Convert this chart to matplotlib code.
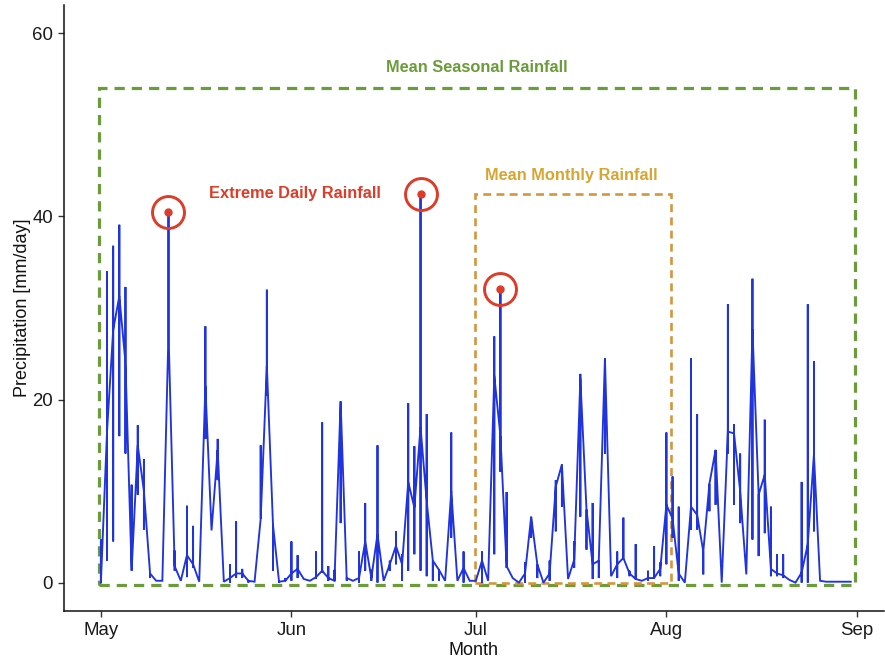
import numpy as np
import matplotlib
matplotlib.use("Agg")
import matplotlib.pyplot as plt
from matplotlib.patches import Rectangle

plt.rcParams['font.family'] = ['Liberation Sans', 'DejaVu Sans']

# Daily precipitation, May 1 (day 0) to Aug 31 (day 122), mm/day.
# Each day holds several readings: the lowest, a typical one and the highest.
rain_low = [
    0.0, 2.4, 4.5, 16.0, 14.1, 1.3, 9.6, 5.8, 0.5, 0.2,
    0.2, 27.4, 1.3, 0.2, 0.6, 1.6, 0.1, 15.7, 5.7, 11.2,
    0.1, 0.0, 0.5, 0.5, 0.0, 0.1, 7.0, 20.4, 1.3, 0.0,
    0.2, 0.2, 0.5, 0.4, 0.2, 0.4, 1.1, 0.2, 0.2, 6.5,
    0.2, 0.2, 0.0, 1.3, 0.2, 0.0, 0.2, 1.3, 2.0, 0.2,
    1.3, 3.1, 1.3, 0.7, 0.2, 0.2, 0.2, 4.9, 0.2, 0.0,
    0.2, 0.2, 0.0, 0.2, 3.1, 12.1, 1.6, 0.5, 0.0, 0.0,
    4.9, 0.5, 0.0, 0.2, 5.6, 8.3, 0.4, 1.6, 7.2, 3.6,
    0.4, 0.5, 14.1, 0.7, 0.5, 2.7, 0.7, 0.4, 0.2, 0.2,
    0.5, 0.7, 2.0, 4.9, 0.2, 0.0, 5.8, 5.8, 0.9, 7.8,
    8.5, 0.0, 14.1, 8.5, 6.5, 0.9, 4.7, 2.9, 5.4, 0.7,
    0.7, 0.5, 0.3, 0.0, 0.0, 0.0, 5.6, 0.2, 0.1, 0.1,
    0.1, 0.1, 0.1,
]
rain_mid = [
    0.0, 16.5, 27.6, 31.3, 24.0, 1.3, 15.0, 10.0, 1.0, 0.2,
    0.2, 27.4, 1.8, 0.2, 3.0, 2.0, 0.1, 21.5, 5.7, 14.5,
    0.1, 0.5, 1.0, 1.0, 0.2, 0.1, 7.0, 23.7, 6.3, 0.1,
    0.2, 1.0, 1.5, 0.4, 0.2, 0.6, 1.3, 0.5, 0.2, 19.8,
    0.5, 0.2, 0.5, 4.5, 0.5, 5.3, 0.2, 2.0, 4.0, 2.0,
    11.0, 8.2, 17.0, 8.9, 2.4, 1.4, 0.2, 10.0, 0.2, 1.6,
    0.2, 0.2, 2.4, 0.2, 22.6, 16.0, 1.8, 0.5, 0.0, 1.0,
    7.2, 2.0, 0.0, 1.0, 10.5, 12.9, 0.4, 2.5, 22.3, 8.0,
    2.0, 2.4, 24.5, 0.7, 2.0, 2.7, 1.0, 0.4, 0.2, 0.5,
    0.5, 1.5, 8.5, 7.0, 1.0, 0.0, 8.3, 7.4, 3.4, 10.8,
    14.5, 0.0, 16.5, 16.3, 10.0, 0.9, 27.7, 9.6, 11.8, 1.5,
    1.0, 0.8, 0.3, 0.0, 1.1, 4.2, 14.0, 0.2, 0.1, 0.1,
    0.1, 0.1, 0.1,
]
rain_high = [
    4.7, 34.0, 36.8, 39.1, 32.3, 10.7, 17.2, 13.5, 1.0, 0.2,
    0.2, 40.5, 3.5, 0.2, 8.4, 6.2, 0.1, 28.0, 5.7, 15.7,
    0.1, 2.0, 6.7, 1.5, 0.2, 0.1, 15.0, 32.0, 6.3, 0.1,
    0.5, 4.5, 3.0, 0.4, 0.2, 3.4, 17.5, 1.8, 1.4, 19.8,
    0.5, 0.2, 3.4, 8.7, 1.4, 15.0, 0.2, 2.4, 5.6, 3.1,
    19.6, 14.9, 42.4, 18.4, 2.4, 1.4, 0.2, 16.4, 0.2, 3.4,
    0.2, 0.2, 3.4, 0.2, 26.9, 32.1, 9.9, 0.5, 0.0, 2.2,
    7.2, 2.0, 0.0, 2.4, 11.2, 12.9, 0.4, 4.5, 22.8, 8.0,
    8.7, 2.4, 24.5, 0.7, 3.4, 7.1, 1.3, 4.2, 0.2, 1.3,
    4.0, 2.2, 16.4, 11.6, 8.3, 0.0, 24.5, 18.4, 3.4, 10.8,
    14.5, 0.0, 30.4, 17.3, 14.1, 0.9, 33.2, 9.6, 17.8, 8.3,
    3.1, 3.1, 0.3, 0.0, 11.0, 30.4, 24.2, 0.2, 0.1, 0.1,
    0.1, 0.1, 0.1,
]

# Days picked out as extreme daily rainfall (May 12, Jun 22, Jul 5)
extreme_days = [11, 52, 65]

month_ticks = [0, 31, 61, 92, 123]
month_labels = ["May", "Jun", "Jul", "Aug", "Sep"]
y_ticks = [0, 20, 40, 60]

# Season window and the July window (day ranges, mm/day heights)
season_span = (-0.3, 122.7)
season_height = (-0.25, 54.0)
month_span = (60.8, 92.7)
month_height = (0.0, 42.4)

BLUE = "#1f33de"
GREEN = "#6b9b3a"
GOLD = "#d6a532"
ORANGE = "#d4963a"
RED = "#dc3c28"

# Build the path: within each day go typical -> high -> low -> typical
xs, ys = [], []
for d, (lo, mid, hi) in enumerate(zip(rain_low, rain_mid, rain_high)):
    for v in (mid, hi, lo, mid):
        xs.append(d)
        ys.append(v)

fig = plt.figure(figsize=(8.85, 6.64), dpi=100)
ax = fig.add_axes([64 / 885, 1 - 611 / 664, (884 - 64) / 885, (611 - 5) / 664])

ax.plot(xs, ys, color=BLUE, lw=1.35, solid_joinstyle="miter", zorder=3)

ax.add_patch(Rectangle((season_span[0], season_height[0]),
                       season_span[1] - season_span[0],
                       season_height[1] - season_height[0],
                       fill=False, edgecolor=GREEN, lw=2.3,
                       linestyle=(0, (3.2, 2.2)), zorder=2))
ax.add_patch(Rectangle((month_span[0], month_height[0]),
                       month_span[1] - month_span[0],
                       month_height[1] - month_height[0],
                       fill=False, edgecolor=ORANGE, lw=1.9,
                       linestyle=(0, (3.0, 2.0)), zorder=2))

ext_y = [rain_high[d] for d in extreme_days]
ax.plot(extreme_days, ext_y, "o", ms=5, color=RED, zorder=5)
ax.plot(extreme_days, ext_y, "o", ms=23, mfc="none", mec=RED, mew=2.1, zorder=5)

ax.text(61.1, 56.3, "Mean Seasonal Rainfall", color=GREEN, fontsize=11.8,
        fontweight="bold", ha="center", va="center")
ax.text(76.6, 44.5, "Mean Monthly Rainfall", color=GOLD, fontsize=11.8,
        fontweight="bold", ha="center", va="center")
ax.text(31.6, 42.5, "Extreme Daily Rainfall", color=RED, fontsize=11.8,
        fontweight="bold", ha="center", va="center")

ax.set_xlim(-6.0, 127.4)
ax.set_ylim(-3.1, 63.1)
ax.set_xticks(month_ticks)
ax.set_xticklabels(month_labels)
ax.set_yticks(y_ticks)

for side in ("top", "right"):
    ax.spines[side].set_visible(False)
for side in ("left", "bottom"):
    ax.spines[side].set_linewidth(1.1)
    ax.spines[side].set_color("#111111")

ax.tick_params(axis="both", length=4, width=1.0, color="#333333",
               labelsize=13.4, labelcolor="#1a1a1a", pad=4)
ax.set_xlabel("Month", fontsize=13, color="#111111", labelpad=2)
ax.set_ylabel("Precipitation [mm/day]", fontsize=13, color="#111111", labelpad=0.5)

fig.savefig("out.png", dpi=100)
